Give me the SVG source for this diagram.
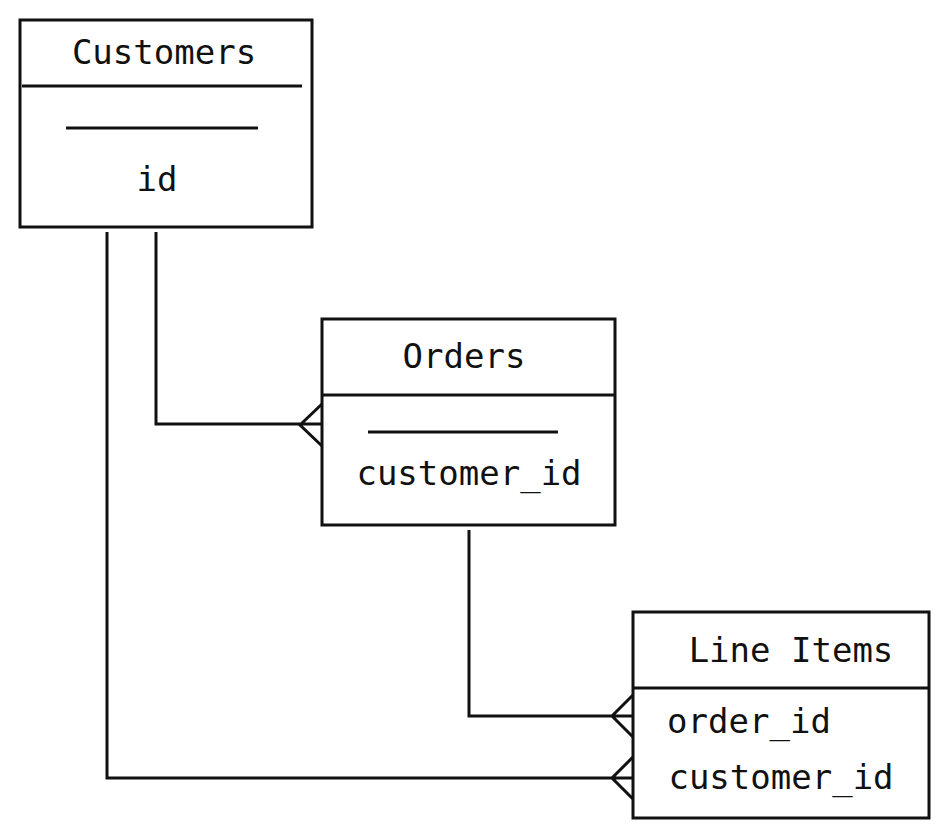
<svg xmlns="http://www.w3.org/2000/svg" width="949" height="839" viewBox="0 0 949 839">
<style>
.box{fill:#fff;stroke:#111;stroke-width:3}
.ln{fill:none;stroke:#111;stroke-width:3}
text{font-family:"DejaVu Sans Mono","Liberation Mono",monospace;font-size:34px;fill:#111;text-anchor:middle}
</style>
<rect width="949" height="839" fill="#fff"/>
<g id="connectors">
<path class="ln" d="M156,232 V424 H322 M322,404 L300,425 L322,446"/>
<path class="ln" d="M469,530 V716 H633 M633,695 L612,716 L633,737"/>
<path class="ln" d="M107,232 V778 H633 M633,757 L612,778 L633,799"/>
</g>
<g id="customers">
<rect class="box" x="20" y="20" width="292" height="207"/>
<path class="ln" d="M22,86 H302 M66,128 H258"/>
<text x="164" y="64">Customers</text>
<text x="157" y="191">id</text>
</g>
<g id="orders">
<rect class="box" x="322" y="319" width="293" height="206"/>
<path class="ln" d="M322,395 H615 M368,432 H558"/>
<text x="464" y="368">Orders</text>
<text x="469" y="485">customer_id</text>
</g>
<g id="lineitems">
<rect class="box" x="633" y="612" width="296" height="206"/>
<path class="ln" d="M633,688 H929"/>
<text x="791" y="662">Line Items</text>
<text x="749" y="733">order_id</text>
<text x="781" y="789">customer_id</text>
</g>
</svg>
